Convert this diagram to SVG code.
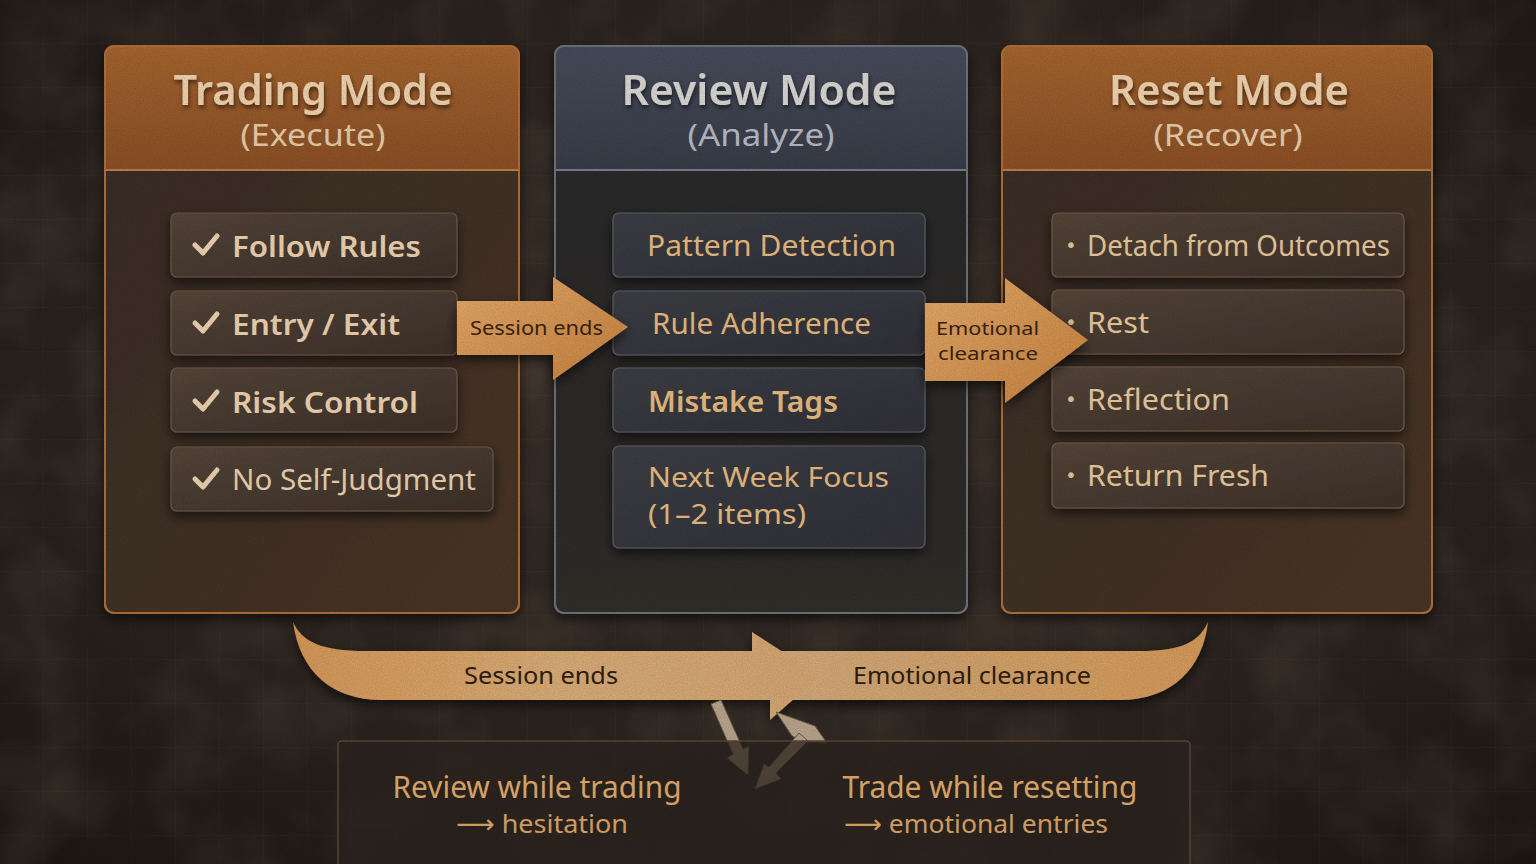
<svg xmlns="http://www.w3.org/2000/svg" width="1536" height="864" viewBox="0 0 1536 864">
  <defs>
    <radialGradient id="bg" cx="50%" cy="45%" r="75%">
      <stop offset="0" stop-color="#3b3029"/>
      <stop offset="0.6" stop-color="#2b241f"/>
      <stop offset="1" stop-color="#1c1714"/>
    </radialGradient>
    <linearGradient id="hdrOrange" x1="0" y1="0" x2="0" y2="1">
      <stop offset="0" stop-color="#a8662f"/>
      <stop offset="1" stop-color="#8c5026"/>
    </linearGradient>
    <linearGradient id="hdrSlate" x1="0" y1="0" x2="0" y2="1">
      <stop offset="0" stop-color="#484d5c"/>
      <stop offset="1" stop-color="#393d49"/>
    </linearGradient>
    <linearGradient id="bodyBrown" x1="0" y1="0" x2="1" y2="1">
      <stop offset="0" stop-color="#382c25"/>
      <stop offset="1" stop-color="#4a3628"/>
    </linearGradient>
    <linearGradient id="bodySlate" x1="0" y1="0" x2="0" y2="1">
      <stop offset="0" stop-color="#2a292c"/>
      <stop offset="1" stop-color="#302d2c"/>
    </linearGradient>
    <linearGradient id="itemBrown" x1="0" y1="0" x2="1" y2="1">
      <stop offset="0" stop-color="#55463a"/>
      <stop offset="1" stop-color="#3e3129"/>
    </linearGradient>
    <linearGradient id="itemSlate" x1="0" y1="0" x2="1" y2="1">
      <stop offset="0" stop-color="#3d3e45"/>
      <stop offset="1" stop-color="#303138"/>
    </linearGradient>
    <linearGradient id="arrowFill" x1="0" y1="0" x2="1" y2="1">
      <stop offset="0" stop-color="#e9ad6a"/>
      <stop offset="1" stop-color="#c98340"/>
    </linearGradient>
    <linearGradient id="bandL" x1="0" y1="0" x2="1" y2="0">
      <stop offset="0" stop-color="#d89a58"/>
      <stop offset="0.5" stop-color="#dcae78"/>
      <stop offset="1" stop-color="#d7a773"/>
    </linearGradient>
    <linearGradient id="bandR" x1="0" y1="0" x2="1" y2="0">
      <stop offset="0" stop-color="#d4ad7e"/>
      <stop offset="1" stop-color="#d89c5a"/>
    </linearGradient>
    <pattern id="grid" width="44" height="44" patternUnits="userSpaceOnUse">
      <path d="M44 0 V44 M0 44 H44" fill="none" stroke="#ffffff" stroke-opacity="0.035" stroke-width="1"/>
    </pattern>
    <filter id="noise" x="0" y="0" width="100%" height="100%">
      <feTurbulence type="fractalNoise" baseFrequency="0.85" numOctaves="2" seed="3"/>
      <feColorMatrix type="matrix" values="0 0 0 0 0  0 0 0 0 0  0 0 0 0 0  0 0 0 -1.2 1.1"/>
    </filter>
    <filter id="mottle" x="0" y="0" width="100%" height="100%">
      <feTurbulence type="fractalNoise" baseFrequency="0.012" numOctaves="3" seed="8"/>
      <feColorMatrix type="matrix" values="0 0 0 0 0.35  0 0 0 0 0.24  0 0 0 0 0.15  0 0 0 1.4 -0.55"/>
    </filter>
    <filter id="shadow" x="-10%" y="-10%" width="120%" height="125%">
      <feDropShadow dx="0" dy="5" stdDeviation="6" flood-color="#000" flood-opacity="0.6"/>
    </filter>
    <filter id="tshadow" x="-10%" y="-20%" width="120%" height="150%">
      <feDropShadow dx="1" dy="3" stdDeviation="2" flood-color="#000" flood-opacity="0.55"/>
    </filter>
    <style>
      .ttl{font-family:"Noto Sans","Open Sans",sans-serif;font-weight:600;font-size:42px;text-anchor:middle;}
      .sub{font-family:"Noto Sans","Open Sans",sans-serif;font-weight:400;font-size:31px;text-anchor:middle;}
      .itm{font-family:"Noto Sans","Open Sans",sans-serif;font-weight:600;font-size:29px;}
      .itr{font-family:"Noto Sans","Open Sans",sans-serif;font-weight:400;font-size:29px;}
      .itr2{font-family:"Noto Sans","Open Sans",sans-serif;font-weight:400;font-size:27px;}
      .chk{fill:none;stroke:#efd5b3;stroke-width:5;stroke-linecap:round;stroke-linejoin:round;}
      .bul{font-family:"DejaVu Sans",sans-serif;font-size:20px;fill:#e6c7a0;}
      .alab{font-family:"Noto Sans","Open Sans",sans-serif;font-size:20px;fill:#3a2412;}
      .alab2{font-family:"Noto Sans","Open Sans",sans-serif;font-size:18px;fill:#3a2412;}
      .blab{font-family:"Noto Sans","Open Sans",sans-serif;font-size:23px;fill:#2e2010;text-anchor:middle;}
      .warn{font-family:"Noto Sans","Open Sans",sans-serif;font-size:30px;fill:#e3ad6e;text-anchor:middle;}
      .warn2{font-family:"Noto Sans","DejaVu Sans",sans-serif;font-size:26px;fill:#dda769;text-anchor:middle;}
      .lbox{fill:url(#itemBrown);stroke:#6e5849;stroke-width:1.2;}
      .sbox{fill:url(#itemSlate);stroke:#5f6068;stroke-width:1.2;}
      .rbox{fill:url(#itemBrown);stroke:#725c4b;stroke-width:1.2;}
    </style>
  </defs>

  <!-- background -->
  <rect width="1536" height="864" fill="url(#bg)"/>
  <rect width="1536" height="864" filter="url(#mottle)" opacity="0.22"/>
  <rect width="1536" height="864" fill="url(#grid)"/>

  <!-- Trading Mode -->
  <g id="node-trading">
    <g filter="url(#shadow)">
      <rect x="105" y="46" width="414" height="567" rx="9" fill="url(#bodyBrown)" stroke="#b3703a" stroke-width="2"/>
    </g>
    <path d="M114 46 H510 A9 9 0 0 1 519 55 V170 H105 V55 A9 9 0 0 1 114 46 Z" fill="url(#hdrOrange)"/>
    <line x1="105" y1="170" x2="519" y2="170" stroke="#c47d45" stroke-width="2"/>
    <rect x="105" y="46" width="414" height="567" rx="9" fill="none" stroke="#b3703a" stroke-width="2"/>
    <text class="ttl" x="313" y="105" fill="#f3d6b2" filter="url(#tshadow)" textLength="279" lengthAdjust="spacingAndGlyphs">Trading Mode</text>
    <text class="sub" x="313" y="146" fill="#ead0ae" textLength="145" lengthAdjust="spacingAndGlyphs">(Execute)</text>
    <g filter="url(#shadow)">
      <rect class="lbox" x="171" y="213" width="286" height="64" rx="6"/>
      <rect class="lbox" x="171" y="291" width="286" height="64" rx="6"/>
      <rect class="lbox" x="171" y="368" width="286" height="64" rx="6"/>
      <rect class="lbox" x="171" y="447" width="322" height="64" rx="6"/>
    </g>
    <path class="chk" d="M195 245 L203 253 L217 236"/>
    <path class="chk" d="M195 323 L203 331 L217 314"/>
    <path class="chk" d="M195 401 L203 409 L217 392"/>
    <path class="chk" d="M195 479 L203 487 L217 470"/>
    <text class="itm" x="232" y="257" fill="#efd5b3" textLength="189" lengthAdjust="spacingAndGlyphs">Follow Rules</text>
    <text class="itm" x="232" y="335" fill="#efd5b3" textLength="168" lengthAdjust="spacingAndGlyphs">Entry / Exit</text>
    <text class="itm" x="232" y="413" fill="#efd5b3" textLength="186" lengthAdjust="spacingAndGlyphs">Risk Control</text>
    <text class="itr" x="232" y="490" fill="#efd5b3" textLength="244" lengthAdjust="spacingAndGlyphs">No Self-Judgment</text>
  </g>

  <!-- Review Mode -->
  <g id="node-review">
    <g filter="url(#shadow)">
      <rect x="555" y="46" width="412" height="567" rx="9" fill="url(#bodySlate)" stroke="#6f737d" stroke-width="2"/>
    </g>
    <path d="M564 46 H958 A9 9 0 0 1 967 55 V170 H555 V55 A9 9 0 0 1 564 46 Z" fill="url(#hdrSlate)"/>
    <line x1="555" y1="170" x2="967" y2="170" stroke="#7c808b" stroke-width="2"/>
    <rect x="555" y="46" width="412" height="567" rx="9" fill="none" stroke="#6f737d" stroke-width="2"/>
    <text class="ttl" x="759" y="105" fill="#dcdad6" filter="url(#tshadow)" textLength="275" lengthAdjust="spacingAndGlyphs">Review Mode</text>
    <text class="sub" x="761" y="146" fill="#babdc6" textLength="147" lengthAdjust="spacingAndGlyphs">(Analyze)</text>
    <g filter="url(#shadow)">
      <rect class="sbox" x="613" y="213" width="312" height="64" rx="6"/>
      <rect class="sbox" x="613" y="291" width="312" height="64" rx="6"/>
      <rect class="sbox" x="613" y="368" width="312" height="64" rx="6"/>
      <rect class="sbox" x="613" y="446" width="312" height="102" rx="6"/>
    </g>
    <text class="itr" x="647" y="256" fill="#ebbd82" textLength="249" lengthAdjust="spacingAndGlyphs">Pattern Detection</text>
    <text class="itr" x="652" y="334" fill="#ebbd82" textLength="219" lengthAdjust="spacingAndGlyphs">Rule Adherence</text>
    <text class="itm" x="648" y="412" fill="#ebbd82" textLength="190" lengthAdjust="spacingAndGlyphs">Mistake Tags</text>
    <text class="itr2" x="648" y="487" fill="#ebbd82" textLength="241" lengthAdjust="spacingAndGlyphs">Next Week Focus</text>
    <text class="itr2" x="648" y="524" fill="#ebbd82" textLength="158" lengthAdjust="spacingAndGlyphs">(1–2 items)</text>
  </g>

  <!-- Reset Mode -->
  <g id="node-reset">
    <g filter="url(#shadow)">
      <rect x="1002" y="46" width="430" height="567" rx="9" fill="url(#bodyBrown)" stroke="#b3703a" stroke-width="2"/>
    </g>
    <path d="M1011 46 H1423 A9 9 0 0 1 1432 55 V170 H1002 V55 A9 9 0 0 1 1011 46 Z" fill="url(#hdrOrange)"/>
    <line x1="1002" y1="170" x2="1432" y2="170" stroke="#c47d45" stroke-width="2"/>
    <rect x="1002" y="46" width="430" height="567" rx="9" fill="none" stroke="#b3703a" stroke-width="2"/>
    <text class="ttl" x="1229" y="105" fill="#f3d6b2" filter="url(#tshadow)" textLength="240" lengthAdjust="spacingAndGlyphs">Reset Mode</text>
    <text class="sub" x="1228" y="146" fill="#ead0ae" textLength="149" lengthAdjust="spacingAndGlyphs">(Recover)</text>
    <g filter="url(#shadow)">
      <rect class="rbox" x="1052" y="213" width="352" height="64" rx="6"/>
      <rect class="rbox" x="1052" y="290" width="352" height="64" rx="6"/>
      <rect class="rbox" x="1052" y="367" width="352" height="64" rx="6"/>
      <rect class="rbox" x="1052" y="443" width="352" height="65" rx="6"/>
    </g>
    <text class="bul" x="1065" y="252">•</text>
    <text class="bul" x="1065" y="329">•</text>
    <text class="bul" x="1065" y="406">•</text>
    <text class="bul" x="1065" y="482">•</text>
    <text class="itr" x="1087" y="256" fill="#ebcd9f" textLength="303" lengthAdjust="spacingAndGlyphs">Detach from Outcomes</text>
    <text class="itr" x="1087" y="333" fill="#ebcd9f" textLength="62" lengthAdjust="spacingAndGlyphs">Rest</text>
    <text class="itr" x="1087" y="410" fill="#ebcd9f" textLength="143" lengthAdjust="spacingAndGlyphs">Reflection</text>
    <text class="itr" x="1087" y="486" fill="#ebcd9f" textLength="182" lengthAdjust="spacingAndGlyphs">Return Fresh</text>
  </g>

  <!-- connectors -->
  <g id="connectors">
    <g id="arrow-session-ends" filter="url(#shadow)">
      <path d="M457 301 H553 V277 L628 327 L553 380 V355 H457 Z" fill="url(#arrowFill)"/>
    </g>
    <text class="alab" x="470" y="335" textLength="133" lengthAdjust="spacingAndGlyphs">Session ends</text>

    <g id="arrow-emotional" filter="url(#shadow)">
      <path d="M925 303 H1005 V278 L1088 340 L1005 403 V381 H925 Z" fill="url(#arrowFill)"/>
    </g>
    <text class="alab2" x="936" y="335" textLength="103" lengthAdjust="spacingAndGlyphs">Emotional</text>
    <text class="alab2" x="938" y="360" textLength="100" lengthAdjust="spacingAndGlyphs">clearance</text>

    <g id="cycle-band" filter="url(#shadow)">
      <path d="M760 651 H1140 C1182 651 1199 642 1208 622 C1203 668 1172 700 1120 700 H760 Z" fill="url(#bandR)"/>
      <path d="M293 622 C302 642 322 651 365 651 H752 V632 L820 676 L770 720 V700 H382 C332 700 300 672 293 622 Z" fill="url(#bandL)"/>
    </g>
    <text class="blab" x="541" y="684" textLength="154" lengthAdjust="spacingAndGlyphs">Session ends</text>
    <text class="blab" x="972" y="684" textLength="238" lengthAdjust="spacingAndGlyphs">Emotional clearance</text>

    <g id="broken-arrows" fill="#bba78d" stroke="#6b5a48" stroke-width="1">
      <path d="M776 712 L815 726 L827 743 L806 742 L792 736 Z"/>
      <path d="M711 704 L721 700 L743 749 L749 746 L748 775 L727 758 L733 754 Z"/>
      <path d="M799 733 L808 741 L776 773 L781 779 L755 789 L764 764 L769 767 Z"/>
    </g>
  </g>

  <!-- warnings box -->
  <g id="node-warnings">
    <rect x="338" y="741" width="852" height="140" rx="4" fill="#2c241f" fill-opacity="0.75" stroke="#5e4837" stroke-width="1.5"/>
    <text class="warn" x="537" y="798" textLength="289" lengthAdjust="spacingAndGlyphs">Review while trading</text>
    <text class="warn2" x="542" y="833" textLength="172" lengthAdjust="spacingAndGlyphs">⟶ hesitation</text>
    <text class="warn" x="990" y="798" textLength="295" lengthAdjust="spacingAndGlyphs">Trade while resetting</text>
    <text class="warn2" x="976" y="833" textLength="264" lengthAdjust="spacingAndGlyphs">⟶ emotional entries</text>
  </g>

  <!-- grain overlay -->
  <rect width="1536" height="864" filter="url(#noise)" opacity="0.14" pointer-events="none"/>
</svg>
